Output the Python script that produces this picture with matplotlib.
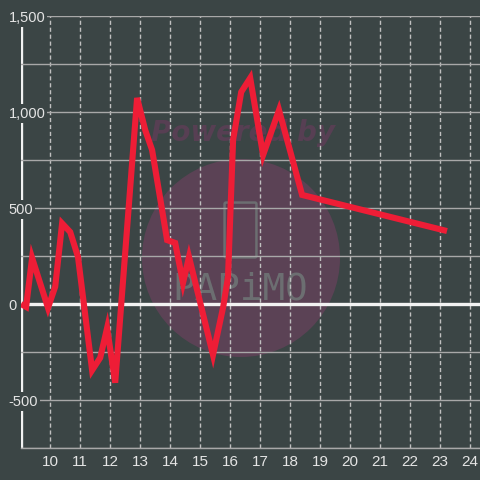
# dark themed line chart with watermark
import matplotlib
matplotlib.use("Agg")
import matplotlib.pyplot as plt
from matplotlib.patches import Circle, FancyBboxPatch
from matplotlib.ticker import FuncFormatter

# data
x_vals = [9.03, 9.2, 9.4, 9.93, 10.17, 10.4, 10.67, 10.93, 11.4, 11.67, 11.9,
          12.17, 12.9, 13.17, 13.4, 13.9, 14.17, 14.43, 14.63, 15.43, 15.77,
          15.93, 16.1, 16.37, 16.67, 17.1, 17.63, 18.4, 23.23]
y_vals = [0, -15, 240, -20, 90, 420, 375, 245, -345, -280, -125,
          -410, 1073, 906, 802, 333, 318, 110, 245, -265, -15,
          140, 854, 1104, 1177, 776, 1010, 568, 380]

x_ticks = list(range(10, 25))
y_grid = list(range(-750, 1501, 250))

bg = "#3b4545"
plt.rcParams["font.family"] = ["Liberation Sans", "DejaVu Sans"]

fig = plt.figure(figsize=(4.8, 4.8), dpi=100, facecolor=bg)
ax = fig.add_axes([21 / 480, 32 / 480, 459 / 480, 432 / 480])
ax.set_facecolor(bg)

# watermark (behind grid and line)
ax.add_patch(Circle((241 / 480, 1 - 258 / 480), 99 / 480,
                    transform=fig.transFigure, facecolor="#5b4255",
                    edgecolor="none", zorder=0.5))
ax.add_patch(FancyBboxPatch((226 / 480, 1 - 256 / 480), 29 / 480, 52 / 480,
                            boxstyle="round,pad=0.003", transform=fig.transFigure,
                            facecolor="none", edgecolor="#6c6e71", lw=1.8, zorder=0.6))
ax.text(243 / 480, 1 - 133 / 480, "Powered by", ha="center", va="center",
        fontsize=20, fontweight="bold", fontstyle="italic", color="#573f53",
        family="DejaVu Sans", transform=fig.transFigure, zorder=0.7)
ax.text(240 / 480, 1 - 290 / 480, "PAPiMO", ha="center", va="center",
        fontsize=27, color="#6c6e71", family="DejaVu Sans Mono",
        transform=fig.transFigure, zorder=0.7)

ax.plot(x_vals, y_vals, color="#ee1d36", lw=4.4, solid_joinstyle="miter",
        solid_capstyle="butt", zorder=3)

ax.set_xlim(9.03, 24.33)
ax.set_ylim(-750, 1500)

ax.set_xticks(x_ticks)
ax.set_yticks(y_grid)
ax.yaxis.set_major_formatter(FuncFormatter(
    lambda v, p: f"{int(v):,}" if v % 500 == 0 else ""))

ax.tick_params(axis="x", length=0, pad=5, labelsize=11, labelcolor="#e4e4e4")
ax.tick_params(axis="y", length=0, pad=9, labelsize=10.5, labelcolor="#e4e4e4")
for lbl in ax.get_yticklabels():
    lbl.set_horizontalalignment("left")
    lbl.set_bbox(dict(facecolor=bg, edgecolor="none", pad=1.5))

ax.grid(axis="x", color="#c0c0c0", lw=1, linestyle=(0, (3, 2)))
ax.grid(axis="y", color="#a8a8a8", lw=1)
for val, gl in zip(y_grid, ax.yaxis.get_gridlines()):
    if val == 0:
        gl.set_color("#f2f2f2")
        gl.set_linewidth(2.4)

for s in ["top", "right", "left"]:
    ax.spines[s].set_visible(False)
ax.spines["bottom"].set_color("#a8a8a8")
ax.spines["bottom"].set_linewidth(1)
ax.axvline(9.03, color="#f2f2f2", lw=2.4, zorder=1.4)

fig.savefig("out.png", dpi=100, facecolor=bg)
